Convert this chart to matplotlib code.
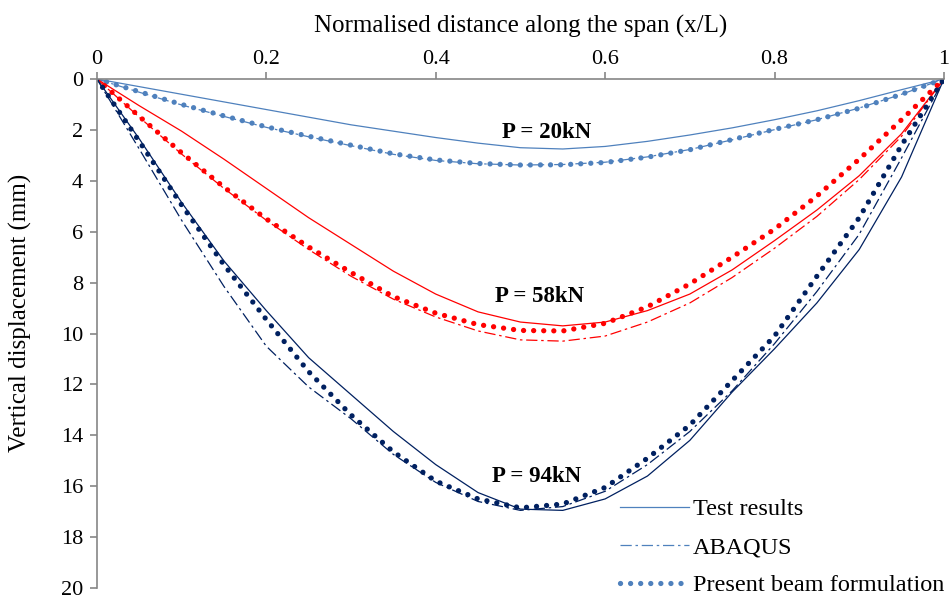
import matplotlib
matplotlib.use('Agg')
import matplotlib.pyplot as plt
import numpy as np

plt.rcParams['font.family'] = ['Liberation Serif', 'DejaVu Serif']

# normalised position along the span
x = [0, 0.05, 0.1, 0.15, 0.2, 0.25, 0.3, 0.35, 0.4, 0.45, 0.5,
     0.55, 0.6, 0.65, 0.7, 0.75, 0.8, 0.85, 0.9, 0.95, 1.0]

# P = 20kN
test_20 = [0, 0.3, 0.6, 0.9, 1.2, 1.5, 1.8, 2.05, 2.3, 2.52, 2.7,
           2.75, 2.65, 2.45, 2.2, 1.92, 1.6, 1.25, 0.85, 0.42, 0]
abaqus_20 = [0, 0.52, 1.02, 1.47, 1.9, 2.27, 2.62, 2.96, 3.2, 3.33, 3.38,
             3.36, 3.27, 3.06, 2.77, 2.39, 1.99, 1.6, 1.14, 0.6, 0]
present_20 = [0, 0.5, 1.0, 1.45, 1.88, 2.25, 2.6, 2.94, 3.18, 3.32, 3.38,
              3.37, 3.28, 3.07, 2.78, 2.38, 1.98, 1.6, 1.15, 0.6, 0]

# P = 58kN
test_58 = [0, 1.05, 2.05, 3.15, 4.3, 5.45, 6.5, 7.55, 8.45, 9.15, 9.55,
           9.7, 9.55, 9.1, 8.45, 7.5, 6.35, 5.15, 3.8, 2.15, 0]
abaqus_58 = [0, 1.5, 2.95, 4.3, 5.55, 6.7, 7.75, 8.65, 9.35, 9.9, 10.25,
             10.3, 10.1, 9.55, 8.8, 7.8, 6.65, 5.4, 3.95, 2.25, 0]
present_58 = [0, 1.47, 2.9, 4.25, 5.5, 6.6, 7.6, 8.55, 9.2, 9.65, 9.88,
              9.9, 9.6, 8.95, 8.05, 7.0, 5.9, 4.6, 3.15, 1.6, 0]

# P = 94kN
test_94 = [0, 2.35, 4.85, 7.15, 9.1, 10.95, 12.4, 13.85, 15.15, 16.25, 16.9,
           16.95, 16.5, 15.6, 14.2, 12.3, 10.6, 8.8, 6.7, 3.85, 0]
abaqus_94 = [0, 2.75, 5.55, 8.15, 10.5, 12.1, 13.35, 14.75, 15.85, 16.6, 16.95,
             16.8, 16.2, 15.15, 13.85, 12.25, 10.4, 8.35, 6.1, 3.1, 0]
present_94 = [0, 2.45, 4.95, 7.3, 9.45, 11.5, 13.2, 14.65, 15.8, 16.5, 16.85,
              16.7, 16.05, 14.9, 13.6, 11.85, 10.1, 7.75, 5.45, 2.6, 0]

loads = ['P = 20kN', 'P = 58kN', 'P = 94kN']
label_pos = [(0.531, 2.1), (0.523, 8.55), (0.519, 15.6)]
colors = ['#4F81BD', '#FF0000', '#002060']

fig = plt.figure(figsize=(9.5, 5.98), dpi=100)
ax = fig.add_axes([0.102, 0.0167, 0.8916, 0.8512])

series = [(test_20, abaqus_20, present_20),
          (test_58, abaqus_58, present_58),
          (test_94, abaqus_94, present_94)]

handles = []
for (t, a, p), c in zip(series, colors):
    h1, = ax.plot(x, t, color=c, lw=0.9, ls='-')
    h2, = ax.plot(x, a, color=c, lw=0.9, ls=(0, (9, 3, 2, 3)))
    h3, = ax.plot(x, p, color=c, lw=3.8, ls=(0, (0.01, 1.9)),
                  dash_capstyle='round')
    handles.append((h1, h2, h3))

for txt, (tx, ty) in zip(loads, label_pos):
    ax.text(tx, ty, txt, fontsize=16.5, fontweight='bold', ha='center',
            va='center')

ax.set_xlim(0, 1)
ax.set_ylim(20, 0)
ax.set_xticks([0, 0.2, 0.4, 0.6, 0.8, 1.0])
ax.set_xticklabels(['0', '0.2', '0.4', '0.6', '0.8', '1'])
ax.set_yticks(range(0, 21, 2))
ax.xaxis.tick_top()
ax.xaxis.set_label_position('top')
ax.set_xlabel('Normalised distance along the span (x/L)', fontsize=18,
              labelpad=13)
ax.set_ylabel('Vertical displacement (mm)', fontsize=18)
ax.yaxis.set_label_coords(-0.077, 0.54)
ax.tick_params(axis='both', labelsize=16, color='#868686', length=5,
               width=1.2, pad=5)
ax.tick_params(axis='x', pad=2)
for s in ('right', 'bottom'):
    ax.spines[s].set_visible(False)
for s in ('left', 'top'):
    ax.spines[s].set_color('#868686')
    ax.spines[s].set_linewidth(1.2)

leg = ax.legend(handles[0], ['Test results', 'ABAQUS', 'Present beam formulation'],
                loc='lower right', bbox_to_anchor=(1.0, -0.016),
                frameon=False, fontsize=17.5, handlelength=2.85,
                labelspacing=0.66, borderpad=0, borderaxespad=0,
                handletextpad=0.15)

fig.savefig('out.png', dpi=100)
